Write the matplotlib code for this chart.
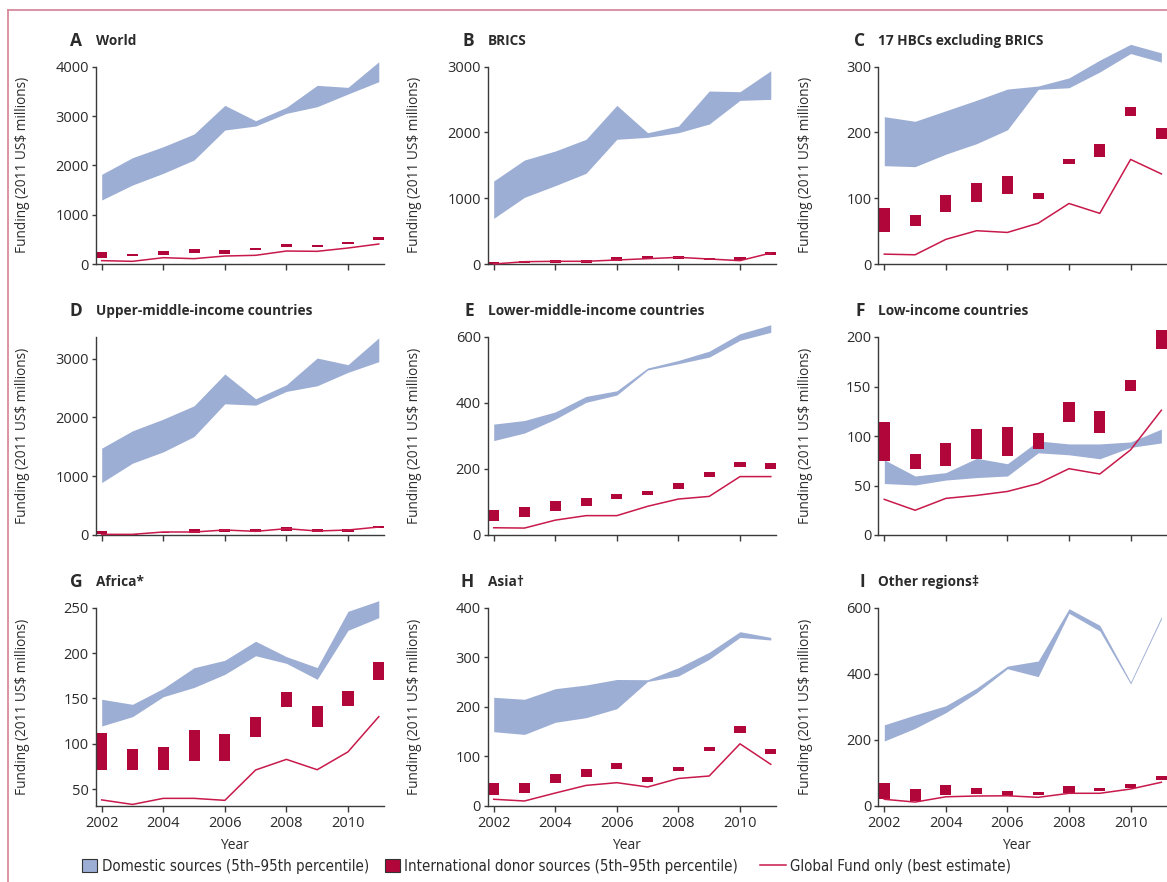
import matplotlib
matplotlib.use("Agg")
import matplotlib.pyplot as plt
from matplotlib.patches import Patch
from matplotlib.lines import Line2D
from matplotlib.font_manager import FontProperties
import numpy as np

plt.rcParams['font.family'] = ['Open Sans', 'DejaVu Sans']

years = list(range(2002, 2012))
xticks = [2002, 2004, 2006, 2008, 2010]

# ---- A World
world_dom_lo = [1297, 1601, 1838, 2108, 2716, 2797, 3054, 3189, 3446, 3695]
world_dom_hi = [1818, 2155, 2378, 2635, 3216, 2905, 3176, 3622, 3581, 4100]
world_int_lo = [125, 160, 190, 223, 210, 284, 345, 345, 412, 486]
world_int_hi = [243, 200, 270, 310, 290, 324, 405, 385, 452, 553]
world_gf = [68, 54, 128, 108, 162, 176, 263, 257, 324, 405]
# ---- B BRICS
brics_dom_lo = [694, 1014, 1191, 1379, 1896, 1926, 1996, 2128, 2488, 2503]
brics_dom_hi = [1262, 1581, 1718, 1896, 2412, 1996, 2098, 2630, 2620, 2938]
brics_int_lo = [0, 20, 10, 10, 41, 81, 81, 61, 60, 137]
brics_int_hi = [25, 46, 60, 60, 106, 117, 122, 96, 101, 178]
brics_gf = [0, 35, 41, 41, 61, 81, 101, 76, 51, 167]
# ---- C 17 HBCs excluding BRICS
hbc_dom_lo = [149.5, 148, 167, 183, 204, 265.5, 268, 292, 320, 307]
hbc_dom_hi = [224, 217, 233, 249, 266, 270.6, 283, 310, 334, 321]
hbc_int_lo = [49, 58, 79, 94, 107, 99, 152, 163, 225, 190]
hbc_int_hi = [85, 74, 105, 123, 134, 108, 159, 182, 238, 207]
hbc_gf = [15, 14, 37.5, 50.6, 48, 62, 92, 77, 159, 137]
# ---- D Upper-middle-income
umic_dom_lo = [892, 1222, 1415, 1676, 2233, 2210, 2444, 2540, 2768, 2950]
umic_dom_hi = [1478, 1773, 1972, 2199, 2740, 2319, 2557, 3012, 2899, 3355]
umic_int_lo = [15, 0, 29, 40, 45, 45, 68, 51, 51, 114]
umic_int_hi = [65, 15, 57, 102, 102, 97, 131, 102, 102, 148]
umic_gf = [11, 11, 51, 51, 85, 62, 108, 68, 85, 136]
# ---- E Lower-middle-income
lmic_dom_lo = [286, 309, 351, 402, 424, 500, 519, 539, 590, 614]
lmic_dom_hi = [336, 347, 373, 420, 437, 506, 529, 557, 610, 637]
lmic_int_lo = [43, 56, 74, 88, 109, 122, 140, 176, 206, 200]
lmic_int_hi = [76, 85, 102, 111, 124, 134, 158, 192, 221, 218]
lmic_gf = [22, 21, 45, 58.7, 58.7, 87, 109, 117, 177, 177]
# ---- F Low-income
lic_dom_lo = [52, 50.5, 55.5, 58, 59.6, 83, 81, 77, 88.5, 93]
lic_dom_hi = [76, 59.6, 63, 77.5, 72, 95, 92, 92, 94, 107]
lic_int_lo = [75, 67, 70, 77, 80, 87, 114, 103, 145, 188]
lic_int_hi = [114, 82, 93, 107, 109, 103, 134, 125, 156.6, 207]
lic_gf = [36, 25, 37, 40, 44, 52, 67, 61.6, 86, 126]
# ---- G Africa
afr_dom_lo = [119.5, 129.8, 151.8, 162, 176.5, 197, 188.6, 171, 225, 239]
afr_dom_hi = [149, 143.4, 161, 183.8, 192, 213, 196, 184, 246, 257.7]
afr_int_lo = [71, 71, 71, 81, 81, 107, 140.4, 118.4, 141.5, 170]
afr_int_hi = [111.4, 94, 96, 115, 110.7, 129.4, 156.7, 141.5, 158, 190]
afr_gf = [38, 33, 39.7, 39.7, 37.5, 71, 82.7, 71.3, 91, 129.8]
# ---- H Asia
asia_dom_lo = [149.5, 144, 168.5, 177.8, 196, 251, 262, 295.7, 340, 334.7]
asia_dom_hi = [219, 215, 236.4, 243.8, 255, 254.5, 278.8, 310, 351.5, 340]
asia_int_lo = [21, 26, 46.5, 58.6, 74, 48, 70, 110.5, 147.5, 104.5]
asia_int_hi = [45, 45, 64, 74, 87, 58, 78.8, 118.6, 161, 115]
asia_gf = [13, 9.5, 25.6, 41, 46.5, 37.8, 55, 60, 125, 83.6]
# ---- I Other regions
oth_dom_lo = [196, 234.5, 282, 342, 415, 391, 583, 529.4, 369, 566]
oth_dom_hi = [245, 275, 303, 356.6, 423, 438.5, 597, 546.6, 375, 573]
oth_int_lo = [21, 15, 31.5, 35.4, 29.4, 32, 37.5, 45.5, 53.6, 78]
oth_int_hi = [68, 50, 62, 53.6, 44.5, 42.4, 59.7, 53.6, 65.7, 91]
oth_gf = [19.4, 11, 27, 29.4, 30, 25.4, 37.6, 37.6, 50.5, 71]

letters = ['A', 'B', 'C', 'D', 'E', 'F', 'G', 'H', 'I']
titles = ['World', 'BRICS', '17 HBCs excluding BRICS',
          'Upper-middle-income countries', 'Lower-middle-income countries',
          'Low-income countries', 'Africa*', 'Asia\u2020', 'Other regions\u2021']
ylims = [(0, 4000), (0, 3000), (0, 300), (0, 3370), (0, 600), (0, 200),
         (31.6, 250), (0, 400), (0, 600)]
yticks = [[0, 1000, 2000, 3000, 4000], [0, 1000, 2000, 3000], [0, 100, 200, 300],
          [0, 1000, 2000, 3000], [0, 200, 400, 600], [0, 50, 100, 150, 200],
          [50, 100, 150, 200, 250], [0, 100, 200, 300, 400], [0, 200, 400, 600]]
legend_labels = ['Domestic sources (5th\u201395th percentile)',
                 'International donor sources (5th\u201395th percentile)',
                 'Global Fund only (best estimate)']

panels = [
    (world_dom_lo, world_dom_hi, world_int_lo, world_int_hi, world_gf),
    (brics_dom_lo, brics_dom_hi, brics_int_lo, brics_int_hi, brics_gf),
    (hbc_dom_lo, hbc_dom_hi, hbc_int_lo, hbc_int_hi, hbc_gf),
    (umic_dom_lo, umic_dom_hi, umic_int_lo, umic_int_hi, umic_gf),
    (lmic_dom_lo, lmic_dom_hi, lmic_int_lo, lmic_int_hi, lmic_gf),
    (lic_dom_lo, lic_dom_hi, lic_int_lo, lic_int_hi, lic_gf),
    (afr_dom_lo, afr_dom_hi, afr_int_lo, afr_int_hi, afr_gf),
    (asia_dom_lo, asia_dom_hi, asia_int_lo, asia_int_hi, asia_gf),
    (oth_dom_lo, oth_dom_hi, oth_int_lo, oth_int_hi, oth_gf),
]

BLUE = '#9DAED4'
RED = '#B0063A'
LINE_RED = '#C8194B'
TXT = '#2b2b2b'
SPINE = '#3a3a3a'

W, H = 1167, 882
fig = plt.figure(figsize=(W / 100, H / 100), dpi=100)

col_left = [95.7, 487.7, 878.3]
ax_w = 288
row_top = [66.7, 337, 607.7]
row_bot = [264, 535, 805.7]

for i, (dlo, dhi, ilo, ihi, gf) in enumerate(panels):
    r, c = divmod(i, 3)
    l, t, b = col_left[c], row_top[r], row_bot[r]
    ax = fig.add_axes([l / W, 1 - b / H, ax_w / W, (b - t) / H])
    yrs = np.array(years)
    ax.fill_between(yrs, dlo, dhi, color=BLUE, lw=0, clip_on=False, zorder=1)
    ax.bar(yrs, np.array(ihi) - np.array(ilo), bottom=ilo, width=0.36,
           color=RED, lw=0, clip_on=False, zorder=2)
    ax.plot(yrs, gf, color=LINE_RED, lw=1.1, clip_on=False, zorder=3)
    ax.set_xlim(2001.805, 2011.16)
    ax.set_ylim(*ylims[i])
    ax.set_yticks(yticks[i])
    ax.set_xticks(xticks)
    for s in ['top', 'right']:
        ax.spines[s].set_visible(False)
    for s in ['left', 'bottom']:
        ax.spines[s].set_color(SPINE)
        ax.spines[s].set_linewidth(1.0)
    ax.tick_params(axis='x', direction='out', length=4.5, width=1.0,
                   color=SPINE, labelsize=10.5, labelcolor=TXT, pad=3)
    ax.tick_params(axis='y', direction='out', length=3, width=1.0,
                   color=SPINE, labelsize=10.5, labelcolor=TXT, pad=2)
    if r < 2:
        ax.tick_params(axis='x', labelbottom=False)
    else:
        ax.set_xlabel('Year', fontsize=10, color=TXT)
        ax.xaxis.set_label_coords((2006.3 - 2001.805) / (2011.16 - 2001.805), -0.165)
    ax.set_ylabel('Funding (2011 US$ millions)', fontsize=9.8, color=TXT)
    ax.yaxis.set_label_coords(-65.7 / ax_w, 0.5)
    ty = 1 - (t - 26) / H
    fig.text((l - 13.5) / W, ty, letters[i], ha='right', va='center',
             fontsize=12.5, fontweight='bold', color=TXT)
    fig.text(l / W, ty, titles[i], ha='left', va='center',
             fontsize=9.8, fontweight='bold', color=TXT)

# legend
leg_y = 1 - 866 / H
lfont = FontProperties(family='DejaVu Sans', stretch='condensed', size=10.8)
h1 = Patch(facecolor=BLUE, edgecolor='#333333', lw=0.8)
h2 = Patch(facecolor=RED, edgecolor='#333333', lw=0.8)
h3 = Line2D([], [], color=LINE_RED, lw=1.1)
for handle, label, x, hl in [(h1, legend_labels[0], 82, 1.0),
                             (h2, legend_labels[1], 385, 1.0),
                             (h3, legend_labels[2], 760, 1.7)]:
    lg = fig.legend([handle], [label], loc='center left', bbox_to_anchor=(x / W, leg_y),
                    frameon=False, prop=lfont, handlelength=hl, handleheight=1.0,
                    handletextpad=0.3, borderpad=0, borderaxespad=0)
    for tx in lg.get_texts():
        tx.set_color(TXT)

# pink frame
fig.add_artist(Line2D([8 / W, 8 / W], [0, 1 - 10 / H], transform=fig.transFigure,
                      color='#D98A9E', lw=1.3))
fig.add_artist(Line2D([8 / W, 1], [1 - 10 / H, 1 - 10 / H], transform=fig.transFigure,
                      color='#D98A9E', lw=1.3))

fig.savefig('out.png', dpi=100)
